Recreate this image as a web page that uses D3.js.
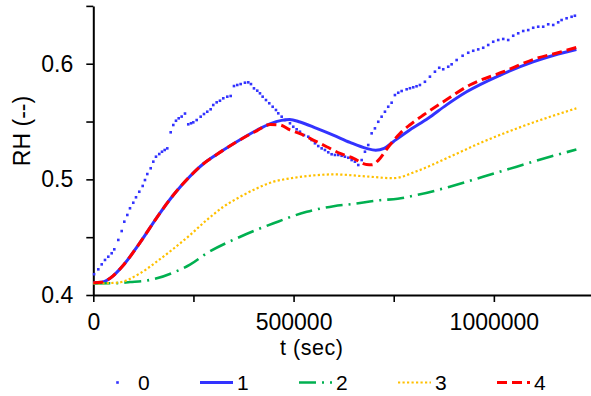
<!DOCTYPE html>
<html><head><meta charset="utf-8">
<script src="https://cdn.jsdelivr.net/npm/d3@7"></script>
<style>
html,body{margin:0;padding:0;background:#fff;}
svg{display:block;font-family:"Liberation Sans",Arial,sans-serif;}
</style></head>
<body>
<script>
// ---- data ----
const seriesNames = ["0", "1", "2", "3", "4"];
const yTickValues = [0.4, 0.45, 0.5, 0.55, 0.6, 0.65];
const yTickLabels = ["0.4", "", "0.5", "", "0.6", ""];
const xTickValues = [0, 250000, 500000, 750000, 1000000, 1250000];
const xTickLabels = ["0", "", "500000", "", "1000000", ""];

// series 0 (markers): [t, RH]
const s0 = [
[2000,0.418],[12500,0.4222],[21000,0.4265],[29200,0.4303],[37400,0.4331],[45900,0.4361],[52400,0.4395],
[62400,0.4476],[70900,0.4553],[77400,0.4634],[84900,0.4692],[91600,0.475],[99800,0.4798],[106600,0.4845],
[114800,0.4893],[123300,0.4943],[129000,0.4994],[134800,0.5046],[143300,0.5096],[149800,0.5153],[156500,0.5196],
[164700,0.5219],[171500,0.5239],[178200,0.5254],[184700,0.5268],[193200,0.5407],[199700,0.547],[206400,0.5507],
[213200,0.5528],[220600,0.5543],[228900,0.5569],[237100,0.5476],[243900,0.5485],[249600,0.5493],[258100,0.5513],
[268100,0.5542],[276300,0.5565],[284500,0.5585],[293000,0.5606],[299500,0.5643],[308000,0.5666],[316200,0.568],
[324500,0.5701],[334500,0.5715],[343000,0.5721],[351200,0.5807],[359400,0.5816],[367900,0.5824],[378600,0.5836],
[386900,0.5839],[393600,0.5824],[401100,0.5787],[409300,0.5767],[416100,0.5744],[422800,0.5715],[431100,0.5686],
[439300,0.5658],[447800,0.5628],[456000,0.56],[461800,0.5571],[470300,0.5542],[478500,0.5513],[491000,0.5485],
[499200,0.5455],[507700,0.5433],[515900,0.5412],[525900,0.5383],[536600,0.5369],[545100,0.534],[553400,0.5312],
[561600,0.5288],[570100,0.5268],[578300,0.5254],[586600,0.5234],[595000,0.5217],[603300,0.5211],[611500,0.5211],
[620000,0.5204],[628200,0.5196],[636500,0.5187],[645000,0.5167],[653200,0.5153],[661500,0.5124],[670000,0.5167],
[678200,0.5239],[686400,0.5297],[694900,0.5398],[703100,0.5441],[711400,0.5498],[719800,0.5542],[728100,0.5585],
[736300,0.5628],[744800,0.5663],[753000,0.5729],[761300,0.5749],[769800,0.5764],[782300,0.5779],[790500,0.5788],
[798700,0.5796],[807000,0.5805],[815400,0.5816],[827900,0.5844],[840400,0.5888],[852900,0.5931],[863600,0.5965],
[873600,0.5952],[886100,0.5974],[894600,0.5995],[907100,0.6032],[922000,0.6069],[936000,0.6095],[948500,0.6112],
[961000,0.6124],[973400,0.6138],[985900,0.6162],[998400,0.619],[1010900,0.6205],[1023400,0.6214],[1035800,0.6205],
[1048300,0.6242],[1060800,0.6263],[1073300,0.6283],[1085800,0.6291],[1098200,0.6311],[1110700,0.632],[1123200,0.632],
[1135700,0.6341],[1148200,0.6335],[1160600,0.6358],[1169100,0.6378],[1181600,0.6393],[1194100,0.6406],[1202300,0.6415]
];

const s1 = [
[0,0.4105],[20000,0.411],[42000,0.4145],[76000,0.4262],[117000,0.4455],[159000,0.4672],[200000,0.4865],
[241000,0.5025],[275000,0.5135],[308000,0.5215],[358000,0.5325],[408000,0.5425],[441000,0.548],[470000,0.551],
[490000,0.5517],[516000,0.5496],[557600,0.5441],[599000,0.5383],[640700,0.532],[682000,0.5268],[705000,0.5252],
[726000,0.5268],[749000,0.5326],[790000,0.5427],[836000,0.5528],[882000,0.5644],[932000,0.5757],[1015000,0.590],
[1098000,0.6016],[1150000,0.6073],[1206000,0.6123]
];

const s2 = [
[0,0.41],[60000,0.4103],[92000,0.4112],[125600,0.4121],[158600,0.4144],[200400,0.4195],[241400,0.4262],
[283000,0.436],[367000,0.4504],[450000,0.462],[533000,0.472],[600000,0.4768],[650000,0.4788],[716000,0.482],
[760000,0.4832],[807000,0.4864],[890000,0.4936],[973000,0.5022],[1057000,0.511],[1140000,0.5195],[1206000,0.5258]
];

const s3 = [
[0,0.41],[59000,0.4106],[117000,0.4188],[159000,0.429],[200000,0.440],[242000,0.452],[283000,0.4648],
[325000,0.4763],[367000,0.485],[408000,0.4922],[450000,0.498],[491000,0.5008],[541000,0.5031],[600000,0.5043],
[683000,0.5025],[749000,0.501],[807000,0.507],[890000,0.5195],[973000,0.5325],[1057000,0.544],[1140000,0.5541],
[1206000,0.5614]
];

const s4 = [
[0,0.4105],[20000,0.411],[42000,0.4145],[76000,0.4262],[117000,0.4455],[159000,0.4672],[200000,0.4865],
[241000,0.5025],[275000,0.5135],[308000,0.5215],[358000,0.5325],[408000,0.542],[441800,0.5475],[466000,0.547],
[491000,0.5427],[516000,0.5395],[549000,0.534],[582500,0.5282],[616000,0.5225],[649700,0.5182],[682000,0.5128],
[696000,0.5126],[712000,0.5167],[737000,0.5282],[766000,0.5398],[790000,0.547],[824000,0.5556],[874000,0.5671],
[940000,0.5816],[1024000,0.5931],[1107000,0.6047],[1160000,0.6095],[1206000,0.614]
];

// ---- layout ----
const W = 591, H = 396;
const svg = d3.select("body").append("svg").attr("width", W).attr("height", H);
const x = d3.scaleLinear().domain([0, 1250000]).range([93.3, 594]);
const y = d3.scaleLinear().domain([0.4, 0.65]).range([295, 5.9]);

const styles = [
  {color:"#3333ff", width:0, dash:null, marker:true},
  {color:"#3333ff", width:3, dash:null},
  {color:"#00b050", width:2.6, dash:"17,6,2,6"},
  {color:"#ffc000", width:2.2, dash:"2.2,2.3"},
  {color:"#ff0000", width:3, dash:"10,5"}
];
const allSeries = [s0, s1, s2, s3, s4];

// axes
const fontSize = 23;
const yAxis = d3.axisLeft(y).tickValues(yTickValues)
  .tickFormat((d,i) => yTickLabels[i]).tickSize(7).tickSizeOuter(0).tickPadding(13);
const xAxis = d3.axisBottom(x).tickValues(xTickValues)
  .tickFormat((d,i) => xTickLabels[i]).tickSize(7).tickSizeOuter(0).tickPadding(11.5);

const gy = svg.append("g").attr("transform", `translate(${x(0)},0)`).call(yAxis);
const gx = svg.append("g").attr("transform", `translate(0,${y(0.4)})`).call(xAxis);
[gx, gy].forEach(g => {
  g.selectAll("path.domain").attr("stroke", "#000").attr("stroke-width", 2);
  g.selectAll(".tick line").attr("stroke", "#000").attr("stroke-width", 1.6);
  g.selectAll(".tick text").attr("fill", "#000").style("font-size", fontSize + "px")
    .style("font-family", '"Liberation Sans",Arial,sans-serif');
});

// axis titles
svg.append("text").attr("x", 311.7).attr("y", 354.5).attr("text-anchor", "middle")
  .style("font-size", "21.5px").style("letter-spacing", "0.5px").attr("fill", "#000").text("t (sec)");
svg.append("text").attr("transform", "translate(30,131) rotate(-90)").attr("text-anchor", "middle")
  .style("font-size", fontSize + "px").attr("fill", "#000").text("RH (--)");

// series
const line = d3.line().x(d => x(d[0])).y(d => y(d[1])).curve(d3.curveMonotoneX);
allSeries.forEach((s, i) => {
  const st = styles[i];
  if (st.marker) {
    svg.append("g").selectAll("rect").data(s).join("rect")
      .attr("x", d => x(d[0]) - 1.3).attr("y", d => y(d[1]) - 1.3)
      .attr("width", 2.6).attr("height", 2.6).attr("fill", st.color);
  } else {
    svg.append("path").datum(s).attr("d", line).attr("fill", "none")
      .attr("stroke", st.color).attr("stroke-width", st.width)
      .attr("stroke-dasharray", st.dash);
  }
});

// legend
const lg = svg.append("g");
seriesNames.forEach((name, i) => {
  const sx = 101 + 99 * i, ly = 382.5;
  const st = styles[i];
  if (st.marker) {
    lg.append("rect").attr("x", sx + 16.5 - 1.3).attr("y", ly - 1.3).attr("width", 2.6).attr("height", 2.6)
      .attr("fill", st.color);
  } else {
    lg.append("line").attr("x1", sx).attr("x2", sx + 33).attr("y1", ly).attr("y2", ly)
      .attr("stroke", st.color).attr("stroke-width", st.width).attr("stroke-dasharray", st.dash);
  }
  lg.append("text").attr("x", sx + 37).attr("y", ly + 7.5).style("font-size", "21px")
    .attr("fill", "#000").text(name);
});
</script>
</body></html>
